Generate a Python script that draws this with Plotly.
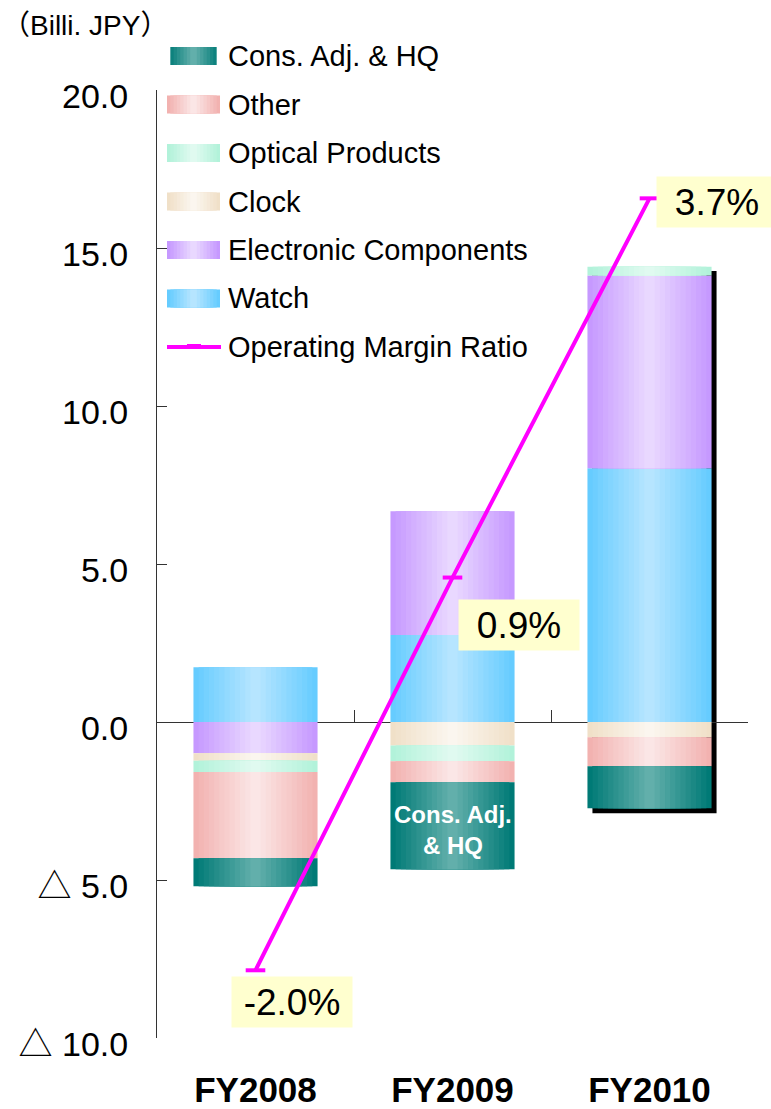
import plotly.graph_objects as go
import numpy as np

# ---------------- data ----------------
years = ["FY2008", "FY2009", "FY2010"]
watch = [1.73, 2.75, 8.03]
electronic = [-0.99, 3.92, 6.10]
clock = [-0.24, -0.74, -0.48]
optical = [-0.35, -0.50, 0.28]
other = [-2.73, -0.67, -0.92]
cons_adj = [-0.89, -2.75, -1.33]
margin_ratio = [-2.0, 0.9, 3.7]
margin_labels = ["-2.0%", "0.9%", "3.7%"]
y_tickvals = [-10, -5, 0, 5, 10, 15, 20]
y_ticktext = ["△ 10.0", "△ 5.0", "0.0", "5.0", "10.0", "15.0", "20.0"]

# ---------------- style ----------------
W, H = 771, 1109
ML, MR, MT, MB = 157, 23, 90, 71
PW, PH = W - ML - MR, H - MT - MB
FONT = "Liberation Sans, Arial, Noto Sans CJK JP, sans-serif"
BAR_W = 0.63
N_LAYERS = 12

# stacking order (bottom-up) with (edge colour, centre colour)
series = [
    ("Watch", watch, "#66CCFF", "#B6E5FF"),
    ("Electronic Components", electronic, "#C699FF", "#E9D8FF"),
    ("Clock", clock, "#F0E0C8", "#FBF6EF"),
    ("Optical Products", optical, "#B2F2DA", "#E0FAF0"),
    ("Other", other, "#F2B2B0", "#FBE6E6"),
    ("Cons. Adj. & HQ", cons_adj, "#007A76", "#62AFAB"),
]
legend_order = ["Cons. Adj. & HQ", "Other", "Optical Products", "Clock",
                "Electronic Components", "Watch"]
style = {s[0]: (s[2], s[3]) for s in series}


def hex2rgb(h):
    h = h.lstrip("#")
    return np.array([int(h[i:i + 2], 16) for i in (0, 2, 4)], dtype=float)


def mix(c1, c2, t):
    c = hex2rgb(c1) * (1 - t) + hex2rgb(c2) * t
    return "rgb(%d,%d,%d)" % tuple(np.round(c).astype(int))


def px_x(px):
    return (px - ML) / PW


def px_y(py):
    return (MT + PH - py) / PH


fig = go.Figure()

pos_base = np.zeros(len(years))
neg_base = np.zeros(len(years))
bases = {}
for name, vals, edge, centre in series:
    v = np.array(vals, dtype=float)
    base = np.where(v >= 0, pos_base, neg_base)
    bases[name] = base.copy()
    pos_base = pos_base + np.where(v >= 0, v, 0)
    neg_base = neg_base + np.where(v < 0, v, 0)
    for k in range(N_LAYERS):
        t = k / (N_LAYERS - 1)
        fig.add_trace(go.Bar(
            x=years, y=v, base=base,
            width=[BAR_W * (1 - k / N_LAYERS)] * len(years),
            marker=dict(color=mix(edge, centre, t), line=dict(width=0)),
            name=name, showlegend=False, hoverinfo="skip",
        ))

# operating margin ratio line on hidden secondary axis
fig.add_trace(go.Scatter(
    x=years, y=margin_ratio, yaxis="y2", mode="lines+markers",
    line=dict(color="#FF00FF", width=4),
    marker=dict(symbol="line-ew-open", size=14, line=dict(color="#FF00FF", width=4)),
    name="Operating Margin Ratio", showlegend=False, hoverinfo="skip",
))

# overlay x-axis used to draw the zero line with category-boundary ticks
fig.add_trace(go.Scatter(x=[None], y=[None], xaxis="x2", showlegend=False))

# drop shadow behind FY2010 stack
i10 = years.index("FY2010")
fig.add_shape(type="rect", xref="x", yref="y", xsizemode="pixel", xanchor=i10,
              x0=-BAR_W * PW / 6 + 5, x1=BAR_W * PW / 6 + 5,
              y0=neg_base[i10] - 0.16, y1=pos_base[i10] - 0.14,
              fillcolor="black", line=dict(width=0), layer="below")

annotations = []
# margin labels
shifts = [(36, -32), (66, -47), (67, -4)]
for yr, m, lab, (dx, dy) in zip(years, margin_ratio, margin_labels, shifts):
    annotations.append(dict(
        x=yr, y=m, xref="x", yref="y2", text=lab, showarrow=False,
        xshift=dx, yshift=dy, bgcolor="#FFFFCF", width=114, height=44,
        borderpad=3, font=dict(family=FONT, size=37, color="black"),
    ))

# text inside FY2009 Cons. Adj. & HQ bar
i09 = years.index("FY2009")
annotations.append(dict(
    x=years[i09], y=bases["Cons. Adj. & HQ"][i09] + cons_adj[i09] / 2,
    xref="x", yref="y", text="Cons. Adj.<br>& HQ", showarrow=False, yshift=-4,
    font=dict(family=FONT, size=24, color="white", weight="bold"),
))

# unit title
annotations.append(dict(
    x=px_x(0), y=px_y(25), xref="paper", yref="paper", xanchor="left",
    yanchor="middle", text="（Billi. JPY）", showarrow=False,
    font=dict(family=FONT, size=28, color="black"),
))

# custom legend
LEG_Y0, LEG_DY = 56, 48.5
sw_x0, sw_x1 = 167, 220
shapes = []
for j, name in enumerate(legend_order):
    cy = LEG_Y0 + j * LEG_DY
    edge, centre = style[name]
    n = 8
    for k in range(n):
        half = (sw_x1 - sw_x0) / 2 * (1 - k / n)
        mid = (sw_x0 + sw_x1) / 2
        shapes.append(dict(
            type="rect", xref="paper", yref="paper",
            x0=px_x(mid - half), x1=px_x(mid + half),
            y0=px_y(cy + 9), y1=px_y(cy - 9),
            fillcolor=mix(edge, centre, k / (n - 1)), line=dict(width=0),
        ))
    annotations.append(dict(
        x=px_x(226), y=px_y(cy), xref="paper", yref="paper", xanchor="left",
        yanchor="middle", text=name, showarrow=False,
        font=dict(family=FONT, size=29, color="black"),
    ))
cy = LEG_Y0 + len(legend_order) * LEG_DY
shapes.append(dict(type="line", xref="paper", yref="paper",
                   x0=px_x(167), x1=px_x(221), y0=px_y(cy), y1=px_y(cy),
                   line=dict(color="#FF00FF", width=4)))
shapes.append(dict(type="line", xref="paper", yref="paper",
                   x0=px_x(187), x1=px_x(201), y0=px_y(cy - 1.5), y1=px_y(cy - 1.5),
                   line=dict(color="#FF00FF", width=3)))
annotations.append(dict(
    x=px_x(226), y=px_y(cy), xref="paper", yref="paper", xanchor="left",
    yanchor="middle", text="Operating Margin Ratio", showarrow=False,
    font=dict(family=FONT, size=29, color="black"),
))

fig.update_layout(
    width=W, height=H,
    margin=dict(l=ML, r=MR, t=MT, b=MB, pad=0),
    paper_bgcolor="white", plot_bgcolor="white",
    barmode="overlay", showlegend=False,
    font=dict(family=FONT, color="black"),
    xaxis=dict(
        type="category", categoryorder="array", categoryarray=years,
        range=[-0.5, 2.5], showline=False, showgrid=False, zeroline=False,
        ticks="", ticklabelstandoff=28, automargin=False,
        tickfont=dict(family=FONT, size=35, color="black", weight="bold"),
    ),
    xaxis2=dict(
        overlaying="x", anchor="free", position=1 / 3, side="bottom",
        range=[-0.5, 2.5], tickvals=[0.5, 1.5, 2.5], ticks="inside",
        ticklen=12, tickcolor="#333333", showticklabels=False,
        showline=True, linecolor="#333333", linewidth=1, automargin=False,
        showgrid=False, zeroline=False, layer="below traces",
    ),
    yaxis=dict(
        range=[-10, 20], tickvals=y_tickvals, ticktext=y_ticktext,
        showline=True, linecolor="#333333", linewidth=1,
        ticks="inside", ticklen=10, tickcolor="#333333", automargin=False,
        showgrid=False, zeroline=False, ticklabelstandoff=21,
        ticklabelshift=6,
        tickfont=dict(family=FONT, size=34, color="black"),
    ),
    yaxis2=dict(overlaying="y", range=[-2.5, 4.5], visible=False),
    annotations=annotations,
    shapes=shapes,
)

fig.write_html("out.html")
